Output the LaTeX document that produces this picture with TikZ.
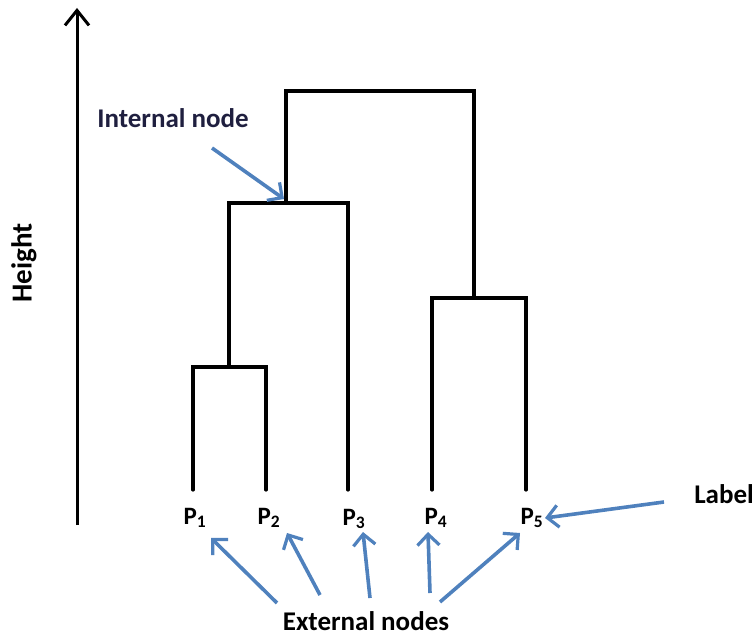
\documentclass[tikz,border=0pt]{standalone}
\usepackage{fontspec}
\setmainfont{Carlito}
\usetikzlibrary{arrows.meta,positioning}

\definecolor{arrowblue}{HTML}{4F81BD}
\definecolor{labelnavy}{HTML}{1F1F3F}

\tikzset{
  branch/.style={line width=3.2pt,line cap=round,line join=miter},
  pointer/.style={arrowblue,line width=3.6pt,-{Straight Barb[length=11pt,width=22pt,line width=3.2pt]}},
  leaf/.style={font=\fontsize{25}{27}\selectfont\bfseries},
  caption/.style={font=\fontsize{27}{29}\selectfont\bfseries,text=labelnavy}
}

\begin{document}
\begin{tikzpicture}[x=1pt,y=-1pt]
\useasboundingbox (0,0) rectangle (756,639);

% height axis
\coordinate (axisbot) at (77,525);
\coordinate (axistop) at (77,8);
\draw[line width=3pt,-{Straight Barb[length=15pt,width=24pt,line width=3pt]}] (axisbot) -- (axistop);
\node[caption,text=black,rotate=90,font=\fontsize{29}{31}\selectfont\bfseries] (height) at (24,263) {Height};

% leaves
\node[leaf] (p1) at (195,518) {P\textsubscript{1}};
\node[leaf] (p2) at (269,518) {P\textsubscript{2}};
\node[leaf] (p3) at (354,519) {P\textsubscript{3}};
\node[leaf] (p4) at (436,518) {P\textsubscript{4}};
\node[leaf] (p5) at (532,518) {P\textsubscript{5}};

% dendrogram
\draw[branch] (193,490) |- (266,367) -- (266,490);
\draw[branch] (229,367) |- (348,203) -- (348,490);
\draw[branch] (432,490) |- (526,298) -- (526,490);
\draw[branch] (286,203) |- (474,91) -- (474,298);

% internal node
\node[caption] (internal) at (173,118) {Internal node};
\coordinate (intfrom) at (212,148);
\coordinate (intto) at (284,199);
\draw[pointer] (intfrom) -- (intto);

% label
\node[caption,text=black] (label) at (724,494) {Label};
\coordinate (labfrom) at (664,502);
\coordinate (labto) at (545,518);
\draw[pointer] (labfrom) -- (labto);

% external nodes
\node[caption,text=black] (external) at (366,621) {External nodes};
\foreach \fx/\fy/\tx/\ty in {277/603/211/538, 320/595/287/533, 370/598/363/532,
                             430/593/428/532, 440/602/520/533}
  \draw[pointer] (\fx,\fy) -- (\tx,\ty);
\end{tikzpicture}
\end{document}
